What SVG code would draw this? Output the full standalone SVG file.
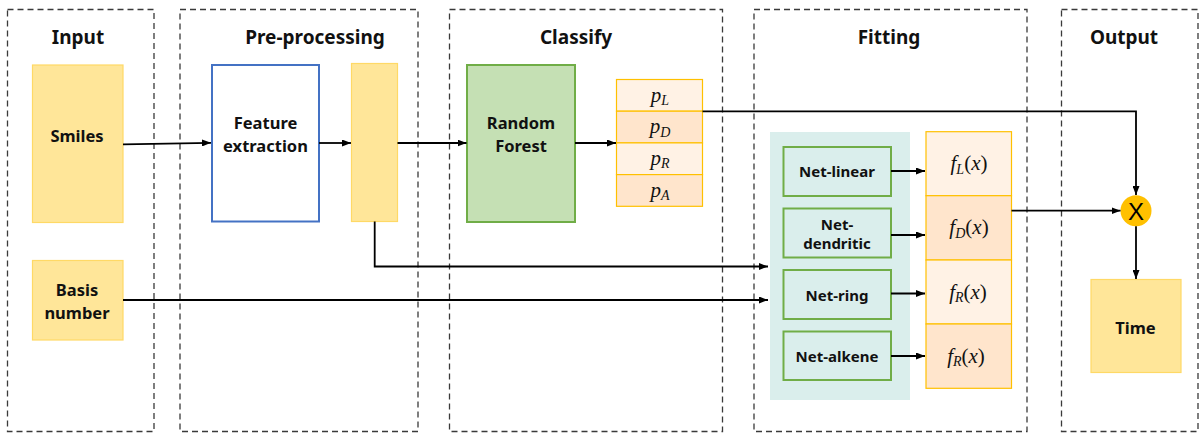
<svg xmlns="http://www.w3.org/2000/svg" width="1204" height="433" viewBox="0 0 1204 433">
<defs>
<marker id="arr" viewBox="0 0 9 7" refX="9" refY="3.5" markerWidth="9" markerHeight="7" markerUnits="userSpaceOnUse" orient="auto"><path d="M0,0 L9,3.5 L0,7 z" fill="#000"/></marker>
<style>
.stage{fill:none;stroke:#3a3a3a;stroke-width:1.3;stroke-dasharray:6,4}
.title{font-family:"Noto Sans","Liberation Sans",sans-serif;font-weight:bold;font-size:19px;fill:#111;text-anchor:middle}
.lbl{font-family:"Noto Sans","Liberation Sans",sans-serif;font-weight:bold;font-size:16.5px;fill:#111;text-anchor:middle}
.nlbl{font-family:"Noto Sans","Liberation Sans",sans-serif;font-weight:bold;font-size:15px;fill:#111;text-anchor:middle}
.yel{fill:#FFE699;stroke:#FFD966;stroke-width:1.2}
.pl{fill:#FFF2E5;stroke:#FFC000;stroke-width:1.2}
.pd{fill:#FFE5CC;stroke:#FFC000;stroke-width:1.2}
.net{fill:#DAEEEC;stroke:#70AD47;stroke-width:2}
.math{font-family:"Liberation Serif","DejaVu Serif",serif;font-style:italic;font-size:21px;fill:#111;text-anchor:middle}
.sub{font-size:14px}
.up{font-style:normal}
.conn{fill:none;stroke:#000;stroke-width:1.8}
</style>
</defs>

<g id="stages">
<rect class="stage" x="7.5" y="9.5" width="146.5" height="422"/>
<rect class="stage" x="180" y="9.5" width="238" height="422"/>
<rect class="stage" x="449.5" y="9.5" width="273" height="422"/>
<rect class="stage" x="754" y="9.5" width="273" height="422"/>
<rect class="stage" x="1061.5" y="9.5" width="136.5" height="422"/>
<text class="title" x="78" y="44">Input</text>
<text class="title" x="315" y="44">Pre-processing</text>
<text class="title" x="576" y="44">Classify</text>
<text class="title" x="889" y="44">Fitting</text>
<text class="title" x="1124" y="44">Output</text>
</g>

<g id="smiles">
<rect class="yel" x="32.5" y="65" width="90.5" height="157.5"/>
<text class="lbl" x="77" y="141.5">Smiles</text>
</g>

<g id="basis">
<rect class="yel" x="32.5" y="260.5" width="90.5" height="79.5"/>
<text class="lbl" x="77" y="296">Basis</text>
<text class="lbl" x="77" y="318.5">number</text>
</g>

<g id="feature">
<rect x="212" y="65" width="107" height="156.5" fill="#fff" stroke="#4472C4" stroke-width="2"/>
<text class="lbl" x="265.5" y="129">Feature</text>
<text class="lbl" x="265.5" y="152">extraction</text>
</g>

<g id="vector">
<rect class="yel" x="351.5" y="63.5" width="46" height="158"/>
</g>

<g id="rf">
<rect x="467" y="65" width="108" height="157" fill="#C5E0B4" stroke="#70AD47" stroke-width="2"/>
<text class="lbl" x="521" y="129.3">Random</text>
<text class="lbl" x="521" y="151.7">Forest</text>
</g>

<g id="probs">
<rect class="pl" x="616.5" y="79.5" width="86" height="31.7"/>
<rect class="pd" x="616.5" y="111.2" width="86" height="31.7"/>
<rect class="pl" x="616.5" y="142.9" width="86" height="31.7"/>
<rect class="pd" x="616.5" y="174.6" width="86" height="31.7"/>
<text class="math" x="660" y="101.5">p<tspan class="sub" dy="3.5">L</tspan></text>
<text class="math" x="660" y="133.2">p<tspan class="sub" dy="3.5">D</tspan></text>
<text class="math" x="660" y="164.9">p<tspan class="sub" dy="3.5">R</tspan></text>
<text class="math" x="660" y="196.6">p<tspan class="sub" dy="3.5">A</tspan></text>
</g>

<g id="nets">
<rect x="770" y="132" width="140" height="268" fill="#DAEEEC"/>
<g id="net-linear">
<rect class="net" x="783.5" y="147" width="107.5" height="49"/>
<text class="nlbl" x="837" y="176.7">Net-linear</text>
</g>
<g id="net-dendritic">
<rect class="net" x="783.5" y="208.5" width="107.5" height="49"/>
<text class="nlbl" x="837" y="230">Net-</text>
<text class="nlbl" x="837" y="248.5">dendritic</text>
</g>
<g id="net-ring">
<rect class="net" x="783.5" y="270" width="107.5" height="49"/>
<text class="nlbl" x="837" y="300.7">Net-ring</text>
</g>
<g id="net-alkene">
<rect class="net" x="783.5" y="331.5" width="107.5" height="48.5"/>
<text class="nlbl" x="837" y="361.7">Net-alkene</text>
</g>
</g>

<g id="fits">
<rect class="pl" x="926" y="131.7" width="85.5" height="64"/>
<rect class="pd" x="926" y="195.7" width="85.5" height="64.3"/>
<rect class="pl" x="926" y="260" width="85.5" height="64"/>
<rect class="pd" x="926" y="324" width="85.5" height="64.3"/>
<text class="math" x="969" y="170">f<tspan class="sub" dy="3.5">L</tspan><tspan class="up" dy="-3.5">(</tspan>x<tspan class="up">)</tspan></text>
<text class="math" x="969" y="234">f<tspan class="sub" dy="3.5">D</tspan><tspan class="up" dy="-3.5">(</tspan>x<tspan class="up">)</tspan></text>
<text class="math" x="968" y="298.5">f<tspan class="sub" dy="3.5">R</tspan><tspan class="up" dy="-3.5">(</tspan>x<tspan class="up">)</tspan></text>
<text class="math" x="966" y="362.5">f<tspan class="sub" dy="3.5">R</tspan><tspan class="up" dy="-3.5">(</tspan>x<tspan class="up">)</tspan></text>
</g>

<g id="mult">
<circle cx="1136" cy="210.7" r="15.5" fill="#FFC000"/>
<text x="1136" y="219.5" font-family="'Liberation Sans',Arial,sans-serif" font-size="24" text-anchor="middle" fill="#000">X</text>
</g>

<g id="time">
<rect class="yel" x="1091" y="279.5" width="90" height="93"/>
<text class="lbl" x="1135.5" y="334">Time</text>
</g>

<g id="connectors">
<path class="conn" d="M123,144.3 L211,142.8" marker-end="url(#arr)"/>
<path class="conn" d="M319,143 L351,143" marker-end="url(#arr)"/>
<path class="conn" d="M397.5,143 L466.5,143" marker-end="url(#arr)"/>
<path class="conn" d="M575,143 L616,143" marker-end="url(#arr)"/>
<path class="conn" d="M702.5,111.3 L1136,111.3 L1136,195" marker-end="url(#arr)"/>
<path class="conn" d="M374.7,221.5 L374.7,266.5 L768,266.5" marker-end="url(#arr)"/>
<path class="conn" d="M123,300 L768,300" marker-end="url(#arr)"/>
<path class="conn" d="M891,171 L925,171" marker-end="url(#arr)"/>
<path class="conn" d="M891,235 L925,235" marker-end="url(#arr)"/>
<path class="conn" d="M891,293.5 L925,293.5" marker-end="url(#arr)"/>
<path class="conn" d="M891,356 L925,356" marker-end="url(#arr)"/>
<path class="conn" d="M1011.5,210.7 L1120.5,210.7" marker-end="url(#arr)"/>
<path class="conn" d="M1136,226.2 L1136,279" marker-end="url(#arr)"/>
</g>
</svg>
